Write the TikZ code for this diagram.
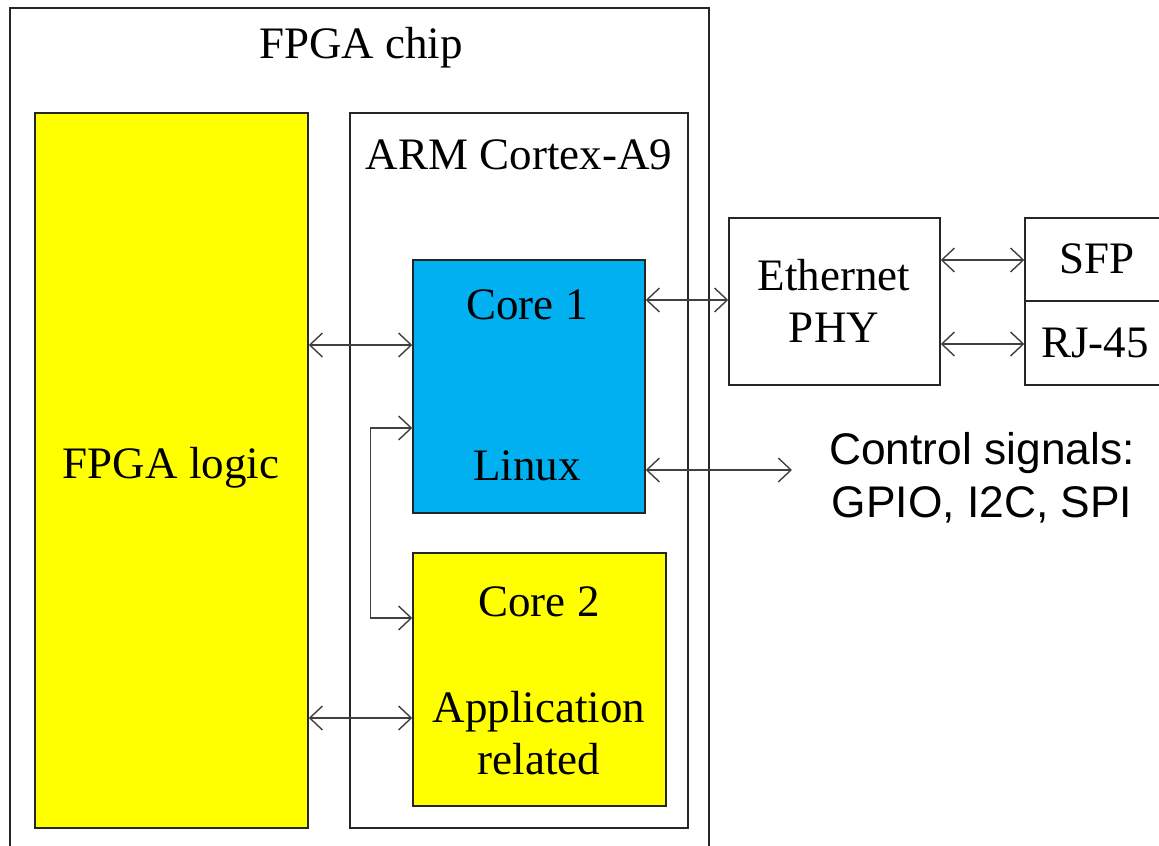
\documentclass[tikz,border=0pt]{standalone}
\usepackage{fontspec}
\setmainfont{Liberation Serif}
\newfontfamily\ctrlfont{Liberation Sans}
\usetikzlibrary{arrows.meta}

\definecolor{chipyellow}{HTML}{FFFF00}
\definecolor{coreblue}{HTML}{00B0F0}

\tikzset{
	box/.style={draw=black!85,line width=1pt,inner sep=0pt},
	txt/.style={font=\fontsize{32}{37}\selectfont,align=center,inner sep=0pt},
	biarrow/.style={{Straight Barb[length=9pt,width=17pt]}-{Straight Barb[length=9pt,width=17pt]},line width=1pt,black!75},
}

\begin{document}
\begin{tikzpicture}[x=0.025cm,y=-0.025cm]

	\useasboundingbox (0,0) rectangle (1159,846);

	% chip
	\draw[box] (10,8) rectangle (709,880);
	\node[txt] (chiplabel) at (361,48) {FPGA chip};

	% fpga logic
	\node[box,fill=chipyellow,minimum width=6.825cm,minimum height=17.875cm] (logic) at (171.5,470.5) {};
	\node[txt] (logiclabel) at (171,468) {FPGA logic};

	% arm cores
	\node[box,minimum width=8.45cm,minimum height=17.875cm] (arm) at (519,470.5) {};
	\node[txt] (armlabel) at (519,155) {ARM Cortex-A9};

	\node[box,fill=coreblue,minimum width=5.8cm,minimum height=6.325cm] (core1) at (529,386.5) {};
	\node[txt] (core1label) at (527,305) {Core 1};
	\node[txt] (linuxlabel) at (527,466) {Linux};

	\node[box,fill=chipyellow,minimum width=6.325cm,minimum height=6.325cm] (core2) at (539.5,679.5) {};
	\node[txt] (core2label) at (539,602) {Core 2};
	\node[txt] (applabel) at (539,733) {Application\\related};

	% ethernet
	\node[box,minimum width=5.275cm,minimum height=4.175cm] (phy) at (834.5,301.5) {};
	\node[txt] (phylabel) at (834,301) {Ethernet\\PHY};

	\node[box,minimum width=3.625cm,minimum height=2.075cm] (sfp) at (1097.5,259.5) {};
	\node[txt] (sfplabel) at (1097,259) {SFP};
	\node[box,minimum width=3.625cm,minimum height=2.1cm] (rj) at (1097.5,343) {};
	\node[txt] (rjlabel) at (1095,343) {RJ-45};

	% control signals
	\node[txt,font=\ctrlfont\fontsize{31.5}{38}\selectfont] (ctrl) at (982,478) {Control signals:\\GPIO, I2C, SPI};
	\coordinate (ctrlend) at (792,470);

	% links
	\draw[biarrow] (logic.east |- 0,345) -- (core1.west |- 0,345);
	\draw[biarrow] (logic.east |- 0,718) -- (core2.west |- 0,718);
	\draw[biarrow] (core1.west |- 0,428) -- ++(-42,0) |- (core2.west |- 0,618);
	\draw[biarrow] (core1.east |- 0,300) -- (phy.west |- 0,300);
	\draw[biarrow] (core1.east |- 0,470) -- (ctrlend);
	\draw[biarrow] (phy.east |- 0,260) -- (sfp.west |- 0,260);
	\draw[biarrow] (phy.east |- 0,344) -- (rj.west |- 0,344);

\end{tikzpicture}
\end{document}
